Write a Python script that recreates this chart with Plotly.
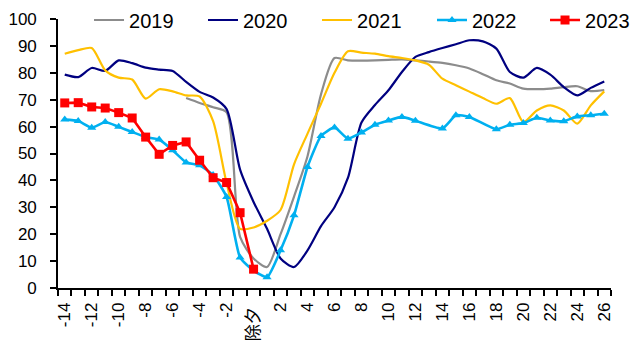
import plotly.graph_objects as go

weeks = list(range(-14, 27))
tick_vals = list(range(-14, 27, 2))
tick_text = [("除夕\u00a0" if v == 0 else str(v)) for v in tick_vals]

y2019 = [None, None, None, None, None, None, None, None, None,
         70.6, 68.8, 67.2, 65.3, 19, 11, 7.8, 20, 34, 49, 72, 85.5, 84.6, 84.5, 84.6, 84.8,
         85, 84.6, 84.2, 83.7, 82.8, 81.6, 79.5, 77.2, 76, 74.1, 73.9, 74.1, 74.7, 75, 73.2, 73.6]
y2020 = [79.3, 78.4, 81.8, 80.7, 84.6, 83.6, 81.9, 81.2, 80.7, 76.6, 72.9, 70.8, 66.5, 44, 32, 22,
         11, 7.8, 14, 23, 30, 41, 61.5, 68, 73.5, 80.3, 85.9, 87.7, 89.2, 90.6, 92.1, 91.7, 89,
         80.3, 78.2, 81.8, 79.3, 74.7, 71.6, 74.4, 76.8]
y2021 = [87.1, 88.4, 89.2, 80.9, 78.2, 77.5, 70.4, 73.9, 73.1, 71.6, 71.2, 62, 39, 22, 22.5, 25,
         29, 46, 57.4, 68.5, 80, 88, 87.5, 87.1, 86.2, 85.5, 84.6, 83, 77.8, 75.4, 73, 70.6, 68.5,
         70.6, 61.7, 66, 67.9, 66, 61.1, 67.9, 73.1]
y2022 = [62.6, 62.1, 59.6, 61.7, 59.9, 58, 56.1, 55.2, 51.2, 46.7, 45.6, 42, 33.8, 11.3, 6.5, 4,
         14, 27, 45, 56.5, 59.7, 55.5, 57.8, 60.7, 62.3, 63.6, 62.2, None, 59.3, 64.2, 63.6, None,
         59, 60.7, 61.3, 63.3, 62.3, 62, 63.8, 64.2, 64.8]
y2023 = [68.8, 68.9, 67.3, 66.9, 65.2, 63.2, 56.1, 49.7, 53, 54.3, 47.5, 41, 39.2, 28, 7]

FONT = "Liberation Sans, Arial, Noto Sans CJK SC, sans-serif"

fig = go.Figure()
fig.add_trace(go.Scatter(x=weeks, y=y2019, name="2019", mode="lines", legend="legend",
                         line=dict(color="#8C8C8C", width=2.2, shape="spline", smoothing=0.7)))
fig.add_trace(go.Scatter(x=weeks, y=y2020, name="2020", mode="lines", legend="legend2",
                         line=dict(color="#000080", width=2.2, shape="spline", smoothing=0.7)))
fig.add_trace(go.Scatter(x=weeks, y=y2021, name="2021", mode="lines", legend="legend3",
                         line=dict(color="#FFC000", width=2.2, shape="spline", smoothing=0.7)))
fig.add_trace(go.Scatter(x=weeks, y=y2022, name="2022", mode="lines+markers", connectgaps=True,
                         legend="legend4",
                         line=dict(color="#00B0F0", width=2.6, shape="spline", smoothing=0.5),
                         marker=dict(symbol="triangle-up", size=8, color="#00B0F0")))
fig.add_trace(go.Scatter(x=weeks[:len(y2023)], y=y2023, name="2023", mode="lines+markers",
                         legend="legend5",
                         line=dict(color="#FF0000", width=2.6),
                         marker=dict(symbol="square", size=9, color="#FF0000")))

leg_x = [0.0561, 0.2622, 0.4684, 0.6763, 0.8807]
def leg(x):
    return dict(orientation="h", x=x, xref="paper", y=1 - 20 / 343, yref="container",
                xanchor="left", yanchor="middle", font=dict(size=20),
                bgcolor="rgba(0,0,0,0)", itemwidth=30)

layout_legends = {("legend" if i == 0 else f"legend{i+1}"): leg(x) for i, x in enumerate(leg_x)}

fig.update_layout(
    width=636, height=343,
    margin=dict(l=58, r=25, t=19, b=55, autoexpand=False),
    paper_bgcolor="white", plot_bgcolor="white",
    font=dict(family=FONT, size=17, color="#000000"),
    showlegend=True,
    xaxis=dict(range=[-14.5, 26.5], showline=True, linecolor="black", linewidth=1.6,
               tickmode="array", tickvals=tick_vals, ticktext=tick_text, tickangle=-90,
               ticks="", showgrid=False, zeroline=False, ticklabelstandoff=6,
               tickfont=dict(size=17),
               minor=dict(tickmode="linear", tick0=-14.5, dtick=1, ticks="outside",
                          ticklen=6, tickwidth=1.6, tickcolor="black", showgrid=False)),
    yaxis=dict(range=[0, 100], dtick=10, showline=True, linecolor="black", linewidth=1.6,
               ticks="outside", ticklen=6, tickwidth=1.6, tickcolor="black",
               showgrid=False, zeroline=False, ticklabelstandoff=10,
               tickfont=dict(size=17)),
    **layout_legends,
)

fig.write_html("out.html")
